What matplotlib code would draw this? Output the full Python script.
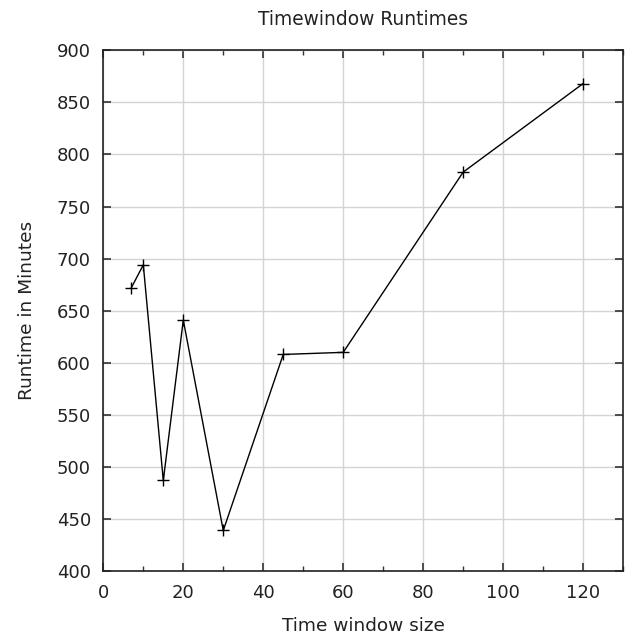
import matplotlib
matplotlib.use('Agg')
import matplotlib.pyplot as plt
from matplotlib.ticker import MultipleLocator

window_sizes = [7, 10, 15, 20, 30, 45, 60, 90, 120]
runtimes = [672, 694, 487, 641, 439, 608, 610, 783, 868]

plt.rcParams['font.family'] = 'DejaVu Sans'
text_color = '#222222'

fig = plt.figure(figsize=(6.3, 6.36), dpi=100)
ax = fig.add_axes([0.164, 0.102, 0.825, 0.819])

ax.plot(window_sizes, runtimes, color='black', linewidth=1.0,
        marker='+', markersize=9, markeredgewidth=1.0)

ax.set_xlim(0, 130)
ax.set_ylim(400, 900)
ax.xaxis.set_major_locator(MultipleLocator(20))
ax.xaxis.set_minor_locator(MultipleLocator(10))
ax.yaxis.set_major_locator(MultipleLocator(50))

ax.grid(True, which='major', color='#d4d4d4', linewidth=1.0)
ax.set_axisbelow(True)
ax.tick_params(which='both', direction='in', top=True, right=True,
               labelsize=13, labelcolor=text_color, color='#333333')
ax.tick_params(which='major', length=6, width=1.2, pad=9)
ax.tick_params(which='minor', length=3.5, width=1.0)
for s in ax.spines.values():
    s.set_linewidth(1.2)
    s.set_color('#222222')

ax.set_title('Timewindow Runtimes', fontsize=13.4, color=text_color, pad=18)
ax.set_xlabel('Time window size', fontsize=13.3, color=text_color, labelpad=11)
ax.set_ylabel('Runtime in Minutes', fontsize=13.3, color=text_color, labelpad=15)

fig.savefig('out.png', dpi=100)
